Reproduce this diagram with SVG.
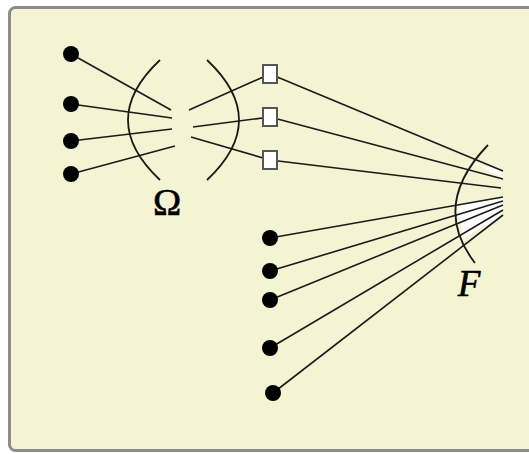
<svg xmlns="http://www.w3.org/2000/svg" width="529" height="454" viewBox="0 0 529 454">
<style>
.frame{fill:#f4f4d3;stroke:#8c8c8c;stroke-width:3}
.dot{fill:#000}
.sq{fill:#fff;stroke:#555;stroke-width:2}
.ln{stroke:#1a1a1a;stroke-width:1.6;fill:none}
.arc{stroke:#1a1a1a;stroke-width:1.8;fill:none}
.wedge{fill:#fff;stroke:none}
.lbl{font-family:"Liberation Serif",serif;fill:#000;text-anchor:middle;stroke:#000;stroke-width:0.6}
</style>
<rect x="0" y="0" width="529" height="454" fill="#fff"/>
<rect class="frame" x="9.5" y="7.5" width="530" height="443" rx="6"/>
<g id="shading">
<polygon class="wedge" points="473,163 503,171 503,178"/>
<polygon class="wedge" points="457,206 503,197 503,215 464,238"/>
</g>
<g id="connectors">
<line class="ln" x1="71" y1="54" x2="171" y2="110"/>
<line class="ln" x1="71" y1="104" x2="172" y2="118"/>
<line class="ln" x1="71" y1="141" x2="172" y2="129"/>
<line class="ln" x1="71" y1="174" x2="175" y2="146"/>
<line class="ln" x1="189" y1="110" x2="270" y2="74"/>
<line class="ln" x1="193" y1="127" x2="270" y2="117"/>
<line class="ln" x1="191" y1="137" x2="270" y2="160"/>
<line class="ln" x1="270" y1="74" x2="503" y2="171"/>
<line class="ln" x1="270" y1="117" x2="503" y2="179"/>
<line class="ln" x1="270" y1="160" x2="501" y2="188"/>
<line class="ln" x1="270" y1="238" x2="503" y2="197"/>
<line class="ln" x1="270" y1="271" x2="503" y2="201"/>
<line class="ln" x1="270" y1="300" x2="503" y2="205"/>
<line class="ln" x1="270" y1="348" x2="503" y2="210"/>
<line class="ln" x1="273" y1="393" x2="503" y2="215"/>
</g>
<g id="omega">
<path class="arc" d="M160,60 Q96,120 160,180"/>
<path class="arc" d="M207,60 Q271,120 207,180"/>
<text class="lbl" x="167" y="215" font-size="38">Ω</text>
</g>
<g id="F">
<path class="arc" d="M488,145 Q430,205 475,263"/>
<text class="lbl" x="469" y="296" font-size="37" font-style="italic">F</text>
</g>
<g id="a1"><circle class="dot" cx="71" cy="54" r="8"/></g>
<g id="a2"><circle class="dot" cx="71" cy="104" r="8"/></g>
<g id="a3"><circle class="dot" cx="71" cy="141" r="8"/></g>
<g id="a4"><circle class="dot" cx="71" cy="174" r="8"/></g>
<g id="s1"><rect class="sq" x="263" y="65" width="14" height="18"/></g>
<g id="s2"><rect class="sq" x="263" y="108" width="14" height="18"/></g>
<g id="s3"><rect class="sq" x="263" y="151" width="14" height="18"/></g>
<g id="b1"><circle class="dot" cx="270" cy="238" r="8"/></g>
<g id="b2"><circle class="dot" cx="270" cy="271" r="8"/></g>
<g id="b3"><circle class="dot" cx="270" cy="300" r="8"/></g>
<g id="b4"><circle class="dot" cx="270" cy="348" r="8"/></g>
<g id="b5"><circle class="dot" cx="273" cy="393" r="8"/></g>
</svg>
